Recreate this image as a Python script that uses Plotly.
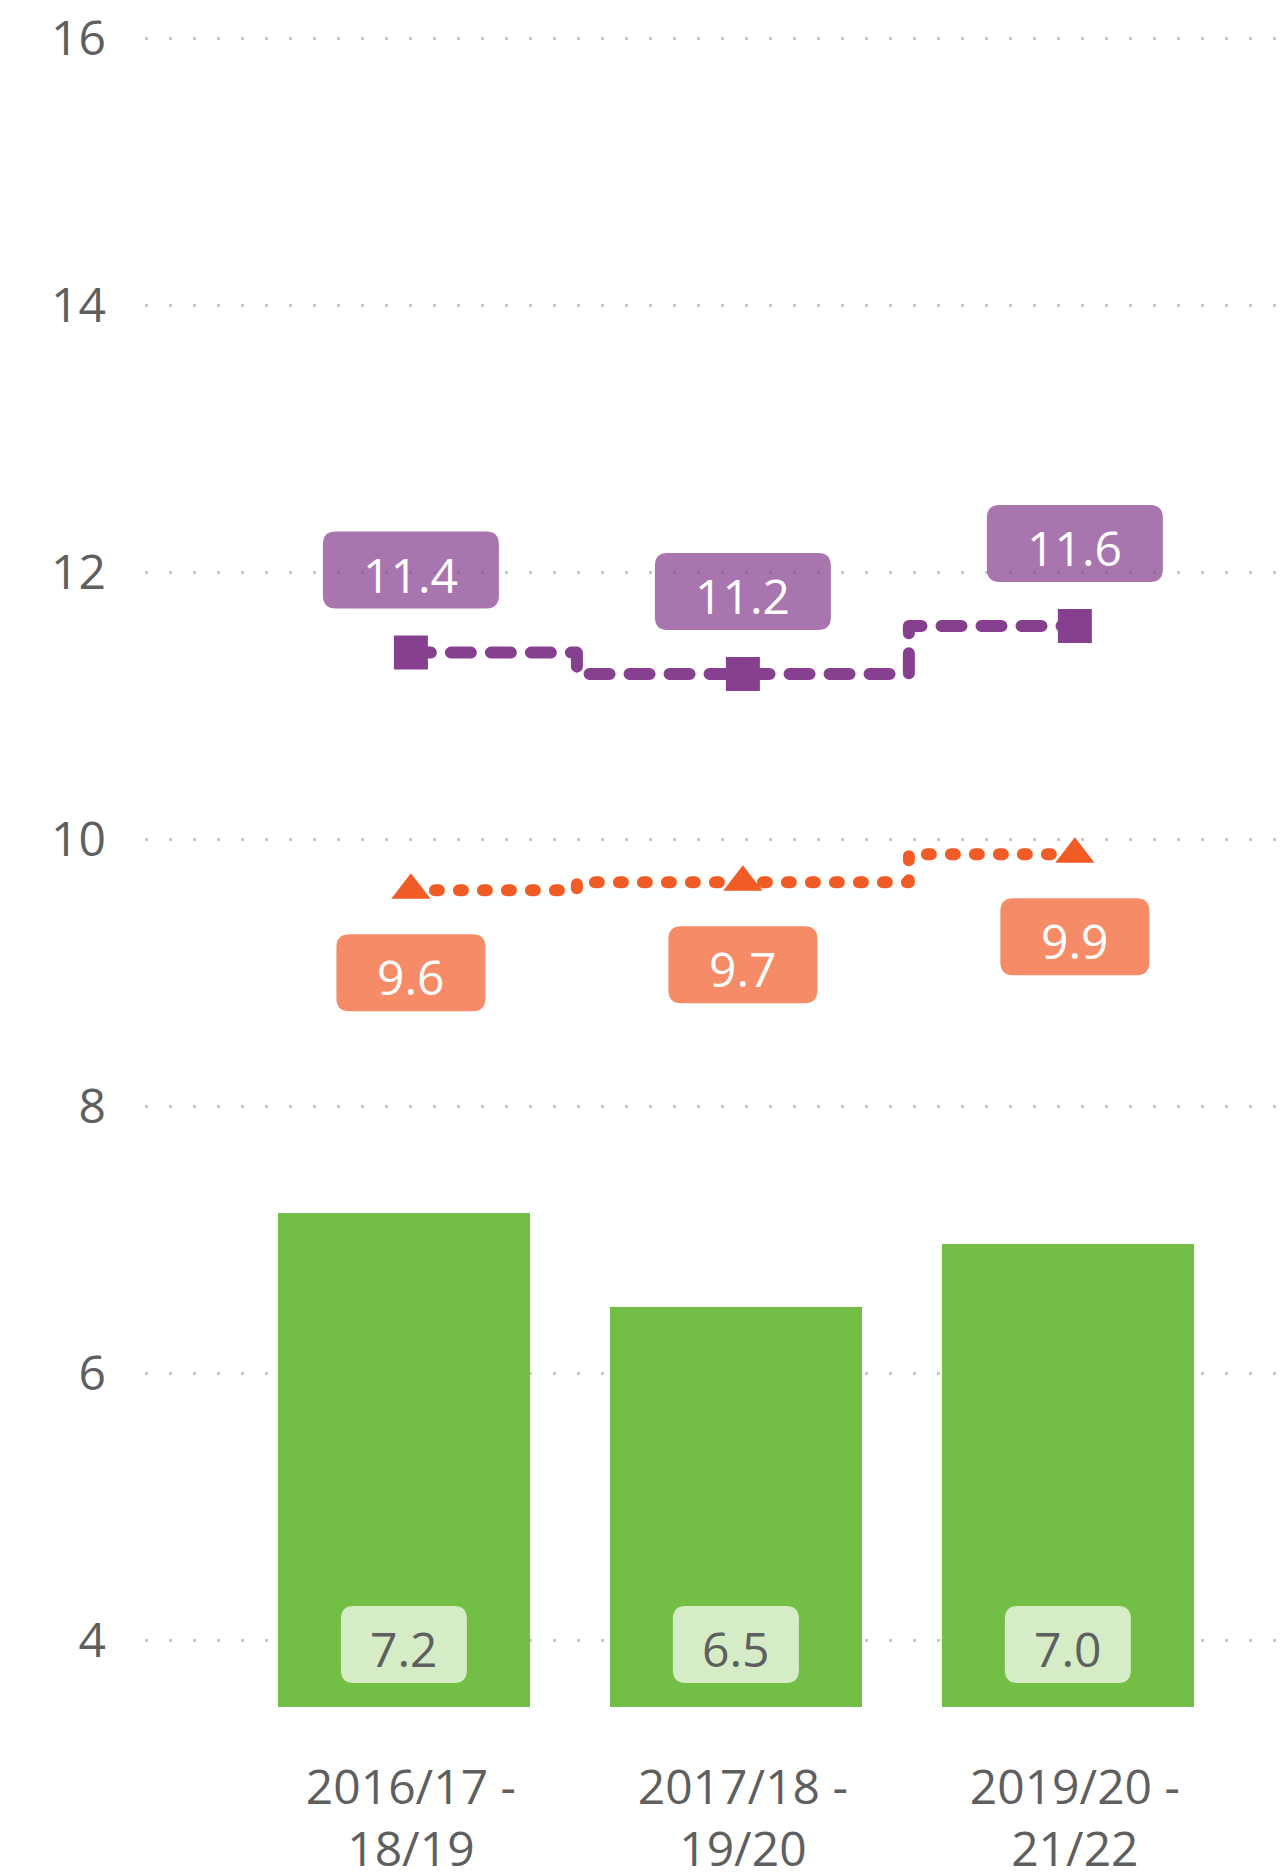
import plotly.graph_objects as go

# ---------------- data ----------------
categories = ["2016/17 -<br>18/19", "2017/18 -<br>19/20", "2019/20 -<br>21/22"]
bar_values = [7.2, 6.5, 6.97]
purple_values = [11.4, 11.24, 11.6]
orange_values = [9.62, 9.68, 9.89]
y_ticks = [4, 6, 8, 10, 12, 14, 16]

# ---------------- styles ----------------
FONT = "Open Sans, Noto Sans, sans-serif"
TEXT_GREY = "#5f5f5f"
GREEN = "#73BF45"
PURPLE = "#86408F"
ORANGE = "#F15B26"
PURPLE_LABEL = "rgba(134,64,143,0.72)"
ORANGE_LABEL = "rgba(241,91,38,0.70)"
GREEN_LABEL = "rgba(255,255,255,0.70)"

x = list(range(len(categories)))

fig = go.Figure()

fig.add_trace(go.Bar(
    x=x, y=bar_values, marker=dict(color=GREEN, line=dict(width=0)),
    width=0.759, offset=-0.40, hoverinfo="skip", showlegend=False,
))

fig.add_trace(go.Scatter(
    x=x, y=purple_values, mode="lines+markers", line_shape="hvh",
    line=dict(color=PURPLE, width=12, dash="20px,20px"),
    marker=dict(symbol="square", size=34, color=PURPLE),
    hoverinfo="skip", showlegend=False,
))

fig.add_trace(go.Scatter(
    x=x, y=orange_values, mode="lines+markers", line_shape="hvh",
    line=dict(color=ORANGE, width=12, dash="4px,20px"),
    marker=dict(symbol="triangle-up", size=34, color=ORANGE),
    hoverinfo="skip", showlegend=False,
))


def rounded_rect(cx, cy, w, h, r):
    x0, x1 = cx - w / 2, cx + w / 2
    y0, y1 = cy - h / 2, cy + h / 2
    return (f"M{x0 + r},{y0} L{x1 - r},{y0} Q{x1},{y0} {x1},{y0 + r} "
            f"L{x1},{y1 - r} Q{x1},{y1} {x1 - r},{y1} L{x0 + r},{y1} "
            f"Q{x0},{y1} {x0},{y1 - r} L{x0},{y0 + r} Q{x0},{y0} {x0 + r},{y0} Z")


shapes = []
annotations = []


def add_label(xv, yv, text, dy, dx, w, fill, font_color):
    shapes.append(dict(
        type="path", xref="x", yref="y", xsizemode="pixel", ysizemode="pixel",
        xanchor=xv, yanchor=yv, path=rounded_rect(dx, dy, w, 77, 13),
        fillcolor=fill, line=dict(width=0), layer="above",
    ))
    annotations.append(dict(
        x=xv, y=yv, xref="x", yref="y", text=text, showarrow=False,
        xshift=dx, yshift=dy - 4, font=dict(family=FONT, size=48, color=font_color),
        xanchor="center", yanchor="middle",
    ))


y_min = 3.5
for i, v in enumerate(purple_values):
    add_label(x[i], v, f"{v:.1f}", 82.5, 0, 176, PURPLE_LABEL, "white")
for i, v in enumerate(orange_values):
    add_label(x[i], v, f"{v:.1f}", -82.5, 0, 149, ORANGE_LABEL, "white")
for i, v in enumerate(bar_values):
    add_label(x[i], y_min, f"{v:.1f}", 62.5, -7, 126, GREEN_LABEL, TEXT_GREY)

fig.update_layout(
    width=1286, height=1873,
    margin=dict(l=145, r=2, t=32, b=166, pad=0, autoexpand=False),
    paper_bgcolor="white", plot_bgcolor="white",
    font=dict(family=FONT, color=TEXT_GREY),
    shapes=shapes, annotations=annotations,
    bargap=0, showlegend=False,
)

fig.update_xaxes(
    range=[-0.801, 2.630], tickmode="array", tickvals=x, ticktext=categories,
    showgrid=False, zeroline=False, showline=False, ticks="", automargin=False,
    tickfont=dict(family=FONT, size=48, color=TEXT_GREY), ticklabelstandoff=48,
)
fig.update_yaxes(
    range=[y_min, 16.05], tickmode="array", tickvals=y_ticks, automargin=False,
    showgrid=True, gridcolor="#c8c8c8", gridwidth=3, griddash="3px,21px",
    zeroline=False, showline=False, ticks="",
    tickfont=dict(family=FONT, size=48, color=TEXT_GREY), ticklabelstandoff=38,
)

post = """
document.body.style.margin='0';
document.querySelectorAll('.scatterlayer .js-line').forEach(function(e){
  e.style.strokeLinecap='round'; e.style.strokeLinejoin='round';
});
"""

fig.write_html("out.html", config={"displayModeBar": False}, post_script=post)
